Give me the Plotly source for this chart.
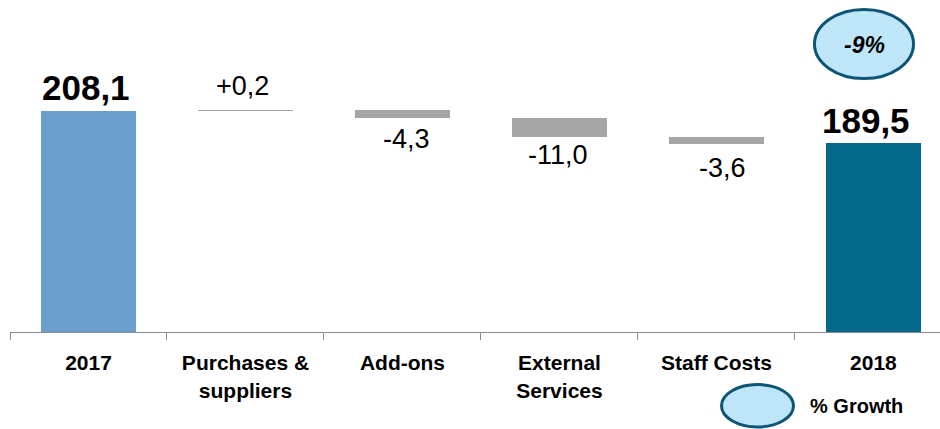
import numpy as np
import plotly.graph_objects as go

categories = ["2017", "Purchases &<br>suppliers", "Add-ons", "External<br>Services", "Staff Costs", "2018"]
values = [208.1, 0.2, -4.3, -11.0, -3.6, 189.5]
measures = ["total", "delta", "delta", "delta", "delta", "total"]
growth_label = "-9%"
legend_label = "% Growth"

colors = ["#699FCA", "#A6A6A6", "#A6A6A6", "#A6A6A6", "#A6A6A6", "#05698C"]
label_xshift = [-2, -3, 4, -1, 6, -7]
label_yshift = [23, 24, -21, -18, -24, 23]

FONT = "Liberation Sans, Arial, sans-serif"

# compute bases for waterfall bars
bases, tops, level = [], [], 0.0
for v, m in zip(values, measures):
    if m == "total":
        bases.append(0.0)
        level = v
        tops.append(v)
    else:
        bases.append(level)
        level = level + v
        tops.append(level)

xs = list(range(len(categories)))

fig = go.Figure()
fig.add_trace(go.Bar(
    x=xs, y=values, base=bases, width=0.61,
    marker=dict(color=colors, line=dict(width=0)),
    hoverinfo="skip",
))

annotations = []
for i, (v, m) in enumerate(zip(values, measures)):
    if m == "total":
        txt = f"<b>{v:.1f}</b>".replace(".", ",")
        y = v
        size = 35
    else:
        txt = f"{v:+.1f}".replace(".", ",")
        size = 27
        y = max(bases[i], tops[i]) if v > 0 else min(bases[i], tops[i])
    annotations.append(dict(
        x=i, y=y, xref="x", yref="y", text=txt, showarrow=False,
        xanchor="center", yanchor="middle",
        xshift=label_xshift[i], yshift=label_yshift[i],
        font=dict(family=FONT, size=size, color="#000000"),
    ))

annotations.append(dict(
    x=0.9183, y=0.8645, xref="paper", yref="paper",
    text=f"<b><i>{growth_label}</i></b>", showarrow=False,
    xanchor="center", yanchor="middle",
    font=dict(family=FONT, size=23, color="#000000"),
))
annotations.append(dict(
    x=0.858, y=-0.2229, xref="paper", yref="paper",
    text=f"<b>{legend_label}</b>", showarrow=False,
    xanchor="left", yanchor="middle",
    font=dict(family=FONT, size=20, color="#000000"),
))

shapes = [
    dict(type="circle", xref="paper", yref="paper",
         x0=(814.5 - 10) / 930, x1=(913.5 - 10) / 930,
         y0=(332 - 78.5) / 332, y1=(332 - 9.5) / 332,
         fillcolor="#BEE6F8", line=dict(color="#0E5474", width=3), layer="above"),
    dict(type="circle", xref="paper", yref="paper",
         x0=(721.5 - 10) / 930, x1=(793.5 - 10) / 930,
         y0=(332 - 427) / 332, y1=(332 - 384.5) / 332,
         fillcolor="#BEE6F8", line=dict(color="#0E5474", width=3), layer="above"),
]

fig.update_layout(
    width=940, height=429,
    margin=dict(l=10, r=0, t=0, b=97),
    paper_bgcolor="#FFFFFF", plot_bgcolor="#FFFFFF",
    showlegend=False,
    bargap=0,
    annotations=annotations,
    shapes=shapes,
    xaxis=dict(
        range=[-0.5, 5.424],
        tickmode="array", tickvals=xs, ticktext=[f"<b>{c}</b>" for c in categories],
        showgrid=False, zeroline=False,
        showline=True, linecolor="#8C8C8C", linewidth=1,
        ticks="",
        tickfont=dict(family=FONT, size=21, color="#000000"),
        ticklabelstandoff=12,
        fixedrange=True,
    ),
    yaxis=dict(
        range=[81.9, 271.3],
        visible=False, showgrid=False, zeroline=False, fixedrange=True,
    ),
)

# boundary tick marks as a second x axis overlay
fig.update_layout(xaxis2=dict(
    overlaying="x", side="bottom", range=[-0.5, 5.424],
    tickmode="array", tickvals=[i - 0.5 for i in xs], ticktext=[""] * len(xs),
    ticks="outside", ticklen=7, tickcolor="#8C8C8C", tickwidth=1,
    showgrid=False, zeroline=False, showline=False, anchor="y", fixedrange=True,
))
fig.add_trace(go.Scatter(x=[None], y=[None], xaxis="x2", showlegend=False, hoverinfo="skip"))

fig.write_html("out.html")
